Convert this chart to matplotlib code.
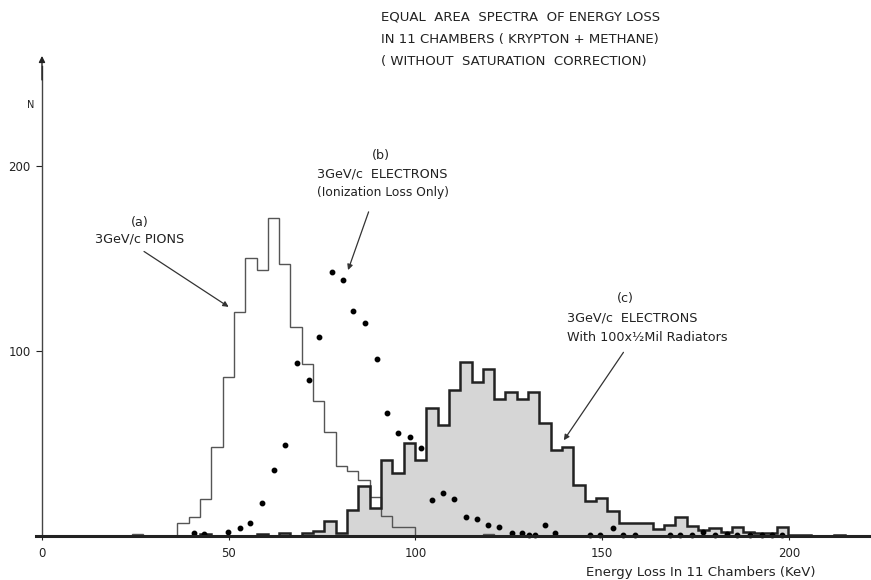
import numpy as np
import matplotlib
matplotlib.use("Agg")
import matplotlib.pyplot as plt

# histogram binning (KeV)
bin_start = 2.9
bin_width = 3.03

# (a) 3 GeV/c pions, first bin index 7
pion_first = 7
pion_counts = [1, 0, 0, 0, 7, 10, 20, 48, 86, 121, 150, 144, 172, 147, 113, 93,
               73, 56, 38, 35, 30, 21, 11, 5, 5, 0, 0, 0, 0, 0, 0, 1]

# (c) 3 GeV/c electrons with radiators, first bin index 13
rad_first = 13
rad_counts = [1, 0, 0, 0, 0, 1, 0, 1.5, 0, 1.5, 2.5, 8, 1.5, 14, 27, 15,
              41, 34, 50, 41, 69, 60, 79, 94, 83, 90, 74, 78, 74, 78, 61, 46.5,
              48, 27.6, 19, 20.4, 13.5, 7, 7, 7, 4, 6, 10, 5.4, 3.2, 4.1, 2.3,
              5, 2.3, 1.5, 1.5, 4.7, 0.5, 0.5, 0, 0, 0.5]

# (b) 3 GeV/c electrons, ionization loss only (dots)
ion_x = [40.8, 43.3, 49.9, 53.0, 55.7, 59.0, 62.1, 65.1, 68.4, 71.5, 74.3, 77.6,
         80.7, 83.4, 86.6, 89.6, 92.5, 95.2, 98.4, 101.4, 104.3, 107.5, 110.4,
         113.4, 116.6, 119.5, 122.4, 125.8, 128.4, 130.5, 132.0, 134.7, 137.3,
         146.7, 149.4, 153.0, 155.6, 158.8, 168.1, 170.8, 174.0, 177.0, 180.2,
         183.3, 186.0, 189.6, 192.7, 195.4, 198.0]
ion_n = [1.5, 1.0, 2.3, 4.5, 6.9, 18, 35.7, 49.2, 93.3, 84.3, 107.4, 142.9,
         138.5, 121.8, 115, 95.7, 66.3, 55.6, 53.5, 47.7, 19.4, 23.2, 19.8,
         10.4, 9, 5.9, 5, 1.5, 1.5, 0.5, 0.5, 5.8, 1.5,
         0.5, 0.5, 4.2, 0.5, 0.5, 0.5, 0.5, 0.5, 2, 0.5,
         1, 0.5, 0.5, 0.5, 0.5, 0.5]

xticks = [0, 50, 100, 150, 200]
yticks = [100, 200]

ink = "#222222"


def edges_for(first, counts):
    return bin_start + bin_width * np.arange(first, first + len(counts) + 1)


plt.rcParams['font.family'] = ['DejaVu Sans']

fig = plt.figure(figsize=(8.71, 5.8), dpi=100)
ax = fig.add_axes([0, 0, 1, 1])
ax.set_xlim(-11.24, 221.96)
ax.set_ylim(-23.8, 289.7)

# shaded spectrum (c)
rad_edges = edges_for(rad_first, rad_counts)
ax.stairs(rad_counts, rad_edges, fill=True, color="#d6d6d6", zorder=1)
ax.stairs(rad_counts, rad_edges, color=ink, lw=1.8, zorder=3)

# pion spectrum (a)
pion_edges = edges_for(pion_first, pion_counts)
ax.stairs(pion_counts, pion_edges, color="#555555", lw=1.0, zorder=2)

# ionization loss only (b)
ax.plot(ion_x, ion_n, "o", color="black", ms=3.2, zorder=4)

# axes
for side in ["top", "right"]:
    ax.spines[side].set_visible(False)
ax.spines["left"].set_position(("data", 0))
ax.spines["bottom"].set_position(("data", 0))
ax.spines["left"].set_bounds(0, 254)
ax.spines["bottom"].set_bounds(-1.5, 222)
ax.spines["left"].set_linewidth(1.0)
ax.spines["left"].set_color("#444444")
ax.spines["bottom"].set_linewidth(2.2)
ax.spines["bottom"].set_color(ink)
ax.spines["bottom"].set_zorder(5)
ax.set_xticks(xticks)
ax.set_yticks(yticks)
ax.tick_params(axis="x", length=3, pad=5, labelsize=8.5, colors=ink)
ax.tick_params(axis="y", length=4, pad=4, labelsize=8.5, colors=ink)
ax.annotate("", xy=(0, 261), xytext=(0, 245),
            arrowprops=dict(arrowstyle="-|>", color=ink, lw=1.0, mutation_scale=9))

ax.text(-3.1, 233, "N", fontsize=7, color=ink, ha="center", va="center")
ax.text(207, -19.5, "Energy Loss In 11 Chambers (KeV)", fontsize=9.5, color=ink,
        ha="right", va="center")

# title block
title = ["EQUAL  AREA  SPECTRA  OF ENERGY LOSS",
         "IN 11 CHAMBERS ( KRYPTON + METHANE)",
         "( WITHOUT  SATURATION  CORRECTION)"]
for i, line in enumerate(title):
    ax.text(90.8, 280.5 - 11.9 * i, line, fontsize=9.5, color=ink, ha="left", va="center")

# labels and arrows
fs = 9.2
ax.text(26.2, 169.7, "(a)", fontsize=fs, color=ink, ha="center", va="center")
ax.text(26.2, 160.5, "3GeV/c PIONS", fontsize=fs, color=ink, ha="center", va="center")
ax.annotate("", xy=(50.6, 123.0), xytext=(26.7, 154.6),
            arrowprops=dict(arrowstyle="-|>", color="#333333", lw=0.9, mutation_scale=8))

ax.text(90.7, 205.6, "(b)", fontsize=fs, color=ink, ha="center", va="center")
ax.text(91.0, 195.7, "3GeV/c  ELECTRONS", fontsize=fs, color=ink, ha="center", va="center")
ax.text(91.4, 185.4, "(Ionization Loss Only)", fontsize=8.8, color=ink, ha="center", va="center")
ax.annotate("", xy=(81.7, 142.3), xytext=(87.7, 176.6),
            arrowprops=dict(arrowstyle="-|>", color="#333333", lw=0.9, mutation_scale=8))

ax.text(156.1, 128.1, "(c)", fontsize=fs, color=ink, ha="center", va="center")
ax.text(140.6, 117.6, "3GeV/c  ELECTRONS", fontsize=fs, color=ink, ha="left", va="center")
ax.text(140.6, 107.1, "With 100x\u00bdMil Radiators", fontsize=9.2, color=ink, ha="left", va="center")
ax.annotate("", xy=(139.3, 50.5), xytext=(156.1, 100.5),
            arrowprops=dict(arrowstyle="-|>", color="#333333", lw=0.9, mutation_scale=8))

fig.savefig("out.png", dpi=100, facecolor="white")
